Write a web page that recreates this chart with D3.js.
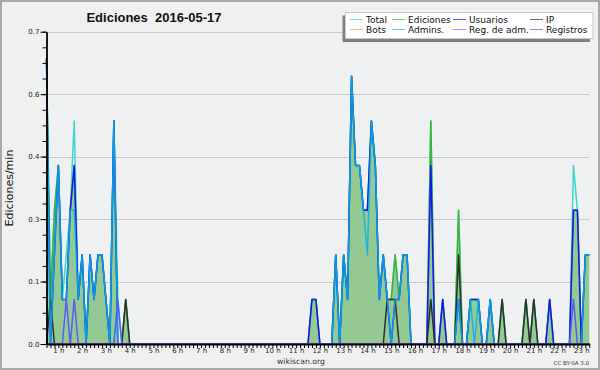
<!DOCTYPE html>
<html>
<head>
<meta charset="utf-8">
<script src="https://cdnjs.cloudflare.com/ajax/libs/d3/7.8.5/d3.min.js"></script>
<style>
body { margin: 0; background: #f0f0f0; }
svg { display: block; }
</style>
</head>
<body>
<script>
// one value every 10 min, first point is 0:30 (6 values per row = 1 hour)
var hourLabels = ["1 h", "2 h", "3 h", "4 h", "5 h", "6 h", "7 h", "8 h", "9 h", "10 h", "11 h", "12 h",
    "13 h", "14 h", "15 h", "16 h", "17 h", "18 h", "19 h", "20 h", "21 h", "22 h", "23 h"];

var yTickValues = [0, 0.14, 0.28, 0.42, 0.56, 0.7];

var seriesNames = ["Total", "Ediciones", "Usuarios", "IP", "Bots", "Admins.", "Reg. de adm.", "Registros"];

var total = [
    0.64, 0.1, 0.3, 0.4, 0.1, 0.2,
    0.3, 0.5, 0.1, 0.2, 0, 0.2,
    0.1, 0.2, 0.2, 0.1, 0, 0.5,
    0.1, 0, 0.1, 0, 0, 0,
    0, 0, 0, 0, 0, 0,
    0, 0, 0, 0, 0, 0,
    0, 0, 0, 0, 0, 0,
    0, 0, 0, 0, 0, 0,
    0, 0, 0, 0, 0, 0,
    0, 0, 0, 0, 0, 0,
    0, 0, 0, 0, 0, 0,
    0, 0.1, 0.1, 0, 0, 0,
    0, 0.2, 0, 0.2, 0.1, 0.6,
    0.4, 0.4, 0.3, 0.3, 0.5, 0.4,
    0.1, 0.2, 0.1, 0.1, 0.2, 0.1,
    0.2, 0.2, 0, 0, 0, 0,
    0, 0.5, 0, 0, 0.1, 0,
    0, 0, 0.3, 0, 0, 0.1,
    0.1, 0.1, 0, 0, 0.1, 0,
    0, 0.1, 0, 0, 0, 0,
    0, 0.1, 0, 0.1, 0, 0,
    0, 0.1, 0, 0, 0, 0,
    0, 0.4, 0.3, 0, 0.2, 0.2
];

var ediciones = [
    0.64, 0.1, 0.3, 0.4, 0.1, 0.1,
    0.3, 0.4, 0.1, 0.2, 0, 0.2,
    0.1, 0.2, 0.2, 0.1, 0, 0.5,
    0, 0, 0.1, 0, 0, 0,
    0, 0, 0, 0, 0, 0,
    0, 0, 0, 0, 0, 0,
    0, 0, 0, 0, 0, 0,
    0, 0, 0, 0, 0, 0,
    0, 0, 0, 0, 0, 0,
    0, 0, 0, 0, 0, 0,
    0, 0, 0, 0, 0, 0,
    0, 0.1, 0.1, 0, 0, 0,
    0, 0.2, 0, 0.2, 0.1, 0.6,
    0.4, 0.4, 0.3, 0.3, 0.5, 0.4,
    0.1, 0.2, 0.1, 0.1, 0.2, 0.1,
    0.2, 0.2, 0, 0, 0, 0,
    0, 0.5, 0, 0, 0.1, 0,
    0, 0, 0.3, 0, 0, 0.1,
    0.1, 0.1, 0, 0, 0.1, 0,
    0, 0.1, 0, 0, 0, 0,
    0, 0.1, 0, 0.1, 0, 0,
    0, 0.1, 0, 0, 0, 0,
    0, 0.3, 0.3, 0, 0.2, 0.2
];

var usuarios = [
    0.64, 0, 0.2, 0.4, 0.1, 0.1,
    0.3, 0.4, 0.1, 0.2, 0, 0.2,
    0.1, 0.2, 0.2, 0.1, 0, 0.5,
    0, 0, 0, 0, 0, 0,
    0, 0, 0, 0, 0, 0,
    0, 0, 0, 0, 0, 0,
    0, 0, 0, 0, 0, 0,
    0, 0, 0, 0, 0, 0,
    0, 0, 0, 0, 0, 0,
    0, 0, 0, 0, 0, 0,
    0, 0, 0, 0, 0, 0,
    0, 0.1, 0.1, 0, 0, 0,
    0, 0.2, 0, 0.2, 0.1, 0.6,
    0.4, 0.4, 0.3, 0.3, 0.5, 0.4,
    0.1, 0.2, 0.1, 0, 0.1, 0.1,
    0.2, 0.2, 0, 0, 0, 0,
    0, 0.4, 0, 0, 0.1, 0,
    0, 0, 0.1, 0, 0, 0.1,
    0.1, 0.1, 0, 0, 0.1, 0,
    0, 0, 0, 0, 0, 0,
    0, 0, 0, 0, 0, 0,
    0, 0.1, 0, 0, 0, 0,
    0, 0.3, 0.3, 0, 0.2, 0.2
];

var ip = [
    0, 0.1, 0, 0, 0, 0,
    0, 0, 0, 0, 0, 0,
    0, 0, 0, 0, 0, 0,
    0, 0, 0.1, 0, 0, 0,
    0, 0, 0, 0, 0, 0,
    0, 0, 0, 0, 0, 0,
    0, 0, 0, 0, 0, 0,
    0, 0, 0, 0, 0, 0,
    0, 0, 0, 0, 0, 0,
    0, 0, 0, 0, 0, 0,
    0, 0, 0, 0, 0, 0,
    0, 0, 0, 0, 0, 0,
    0, 0, 0, 0, 0, 0,
    0, 0, 0, 0, 0, 0,
    0, 0, 0.1, 0.1, 0.1, 0,
    0, 0, 0, 0, 0, 0,
    0, 0.1, 0, 0, 0, 0,
    0, 0, 0.2, 0, 0, 0,
    0, 0, 0, 0, 0, 0,
    0, 0.1, 0, 0, 0, 0,
    0, 0.1, 0, 0.1, 0, 0,
    0, 0, 0, 0, 0, 0,
    0, 0, 0, 0, 0, 0
];

var admins = [
    0.64, 0, 0.2, 0.4, 0.1, 0.1,
    0.3, 0.3, 0.1, 0.2, 0, 0.2,
    0.1, 0.2, 0.2, 0.1, 0, 0.5,
    0, 0, 0, 0, 0, 0,
    0, 0, 0, 0, 0, 0,
    0, 0, 0, 0, 0, 0,
    0, 0, 0, 0, 0, 0,
    0, 0, 0, 0, 0, 0,
    0, 0, 0, 0, 0, 0,
    0, 0, 0, 0, 0, 0,
    0, 0, 0, 0, 0, 0,
    0, 0, 0, 0, 0, 0,
    0, 0.2, 0, 0.2, 0.1, 0.6,
    0.4, 0.4, 0.3, 0.2, 0.5, 0.4,
    0.1, 0.2, 0.1, 0, 0.1, 0.1,
    0.2, 0.2, 0, 0, 0, 0,
    0, 0, 0, 0, 0, 0,
    0, 0, 0.1, 0, 0, 0.1,
    0, 0.1, 0, 0, 0.1, 0,
    0, 0, 0, 0, 0, 0,
    0, 0, 0, 0, 0, 0,
    0, 0, 0, 0, 0, 0,
    0, 0, 0, 0, 0.2, 0.2
];

var registros = [
    0, 0, 0, 0, 0, 0.1,
    0, 0.1, 0, 0, 0, 0,
    0, 0, 0, 0, 0, 0,
    0.1, 0, 0, 0, 0, 0,
    0, 0, 0, 0, 0, 0,
    0, 0, 0, 0, 0, 0,
    0, 0, 0, 0, 0, 0,
    0, 0, 0, 0, 0, 0,
    0, 0, 0, 0, 0, 0,
    0, 0, 0, 0, 0, 0,
    0, 0, 0, 0, 0, 0,
    0, 0, 0, 0, 0, 0,
    0, 0, 0, 0, 0, 0,
    0, 0, 0, 0, 0, 0,
    0, 0, 0, 0, 0, 0,
    0, 0, 0, 0, 0, 0,
    0, 0, 0, 0, 0, 0,
    0, 0, 0, 0, 0, 0,
    0, 0, 0, 0, 0, 0,
    0, 0, 0, 0, 0, 0,
    0, 0, 0, 0, 0, 0,
    0, 0, 0, 0, 0, 0,
    0, 0.1, 0, 0, 0, 0
];

// no bot edits and no admin log actions that day
var bots = total.map(function () { return 0; });
var regAdm = total.map(function () { return 0; });

var lineColors = ["#3fd6c8", "#3cb43c", "#1414f5", "#2e2e2e", "#f5a033", "#08b0e8", "#d23ce6", "#5a5af5"];

var width = 600, height = 370;
var plot = { left: 46.5, right: 589.3, top: 31.7, bottom: 344 };

var svg = d3.select("body").append("svg")
    .attr("width", width)
    .attr("height", height);

svg.append("rect")
    .attr("x", 1).attr("y", 1)
    .attr("width", width - 2).attr("height", height - 2)
    .attr("fill", "#f0f0f0")
    .attr("stroke", "#a8a8a8")
    .attr("stroke-width", 2);

svg.append("rect")
    .attr("x", plot.left).attr("y", plot.top)
    .attr("width", plot.right - plot.left).attr("height", plot.bottom - plot.top)
    .attr("fill", "#eef0f2");

var x = d3.scaleLinear()
    .domain([0, total.length - 1])
    .range([plot.left, plot.right]);

var y = d3.scaleLinear()
    .domain([0, 0.7])
    .range([plot.bottom, plot.top]);

// grid
svg.append("g").selectAll("line")
    .data(yTickValues.slice(1))
    .enter().append("line")
    .attr("x1", plot.left).attr("x2", plot.right)
    .attr("y1", function (d) { return Math.round(y(d)) + 0.5; })
    .attr("y2", function (d) { return Math.round(y(d)) + 0.5; })
    .attr("stroke", "#c8c8c8");

// ediciones area
var area = d3.area()
    .x(function (d, i) { return x(i); })
    .y0(y(0))
    .y1(function (d) { return y(d); });

svg.append("path")
    .datum(ediciones)
    .attr("d", area)
    .attr("fill", "#94c994");

var line = d3.line()
    .x(function (d, i) { return x(i); })
    .y(function (d) { return y(d); });

var allSeries = [total, ediciones, usuarios, ip, bots, admins, regAdm, registros];

svg.append("g").selectAll("path")
    .data(allSeries)
    .enter().append("path")
    .attr("d", line)
    .attr("fill", "none")
    .attr("stroke", function (d, i) { return lineColors[i]; })
    .attr("stroke-opacity", function (d, i) { return i == 5 ? 0.85 : 1; })
    .attr("stroke-width", 1.5)
    .attr("stroke-linejoin", "round");

// x axis
var xAxis = d3.axisBottom(x)
    .tickValues(d3.range(total.length))
    .tickSize(4)
    .tickSizeOuter(0)
    .tickPadding(0)
    .tickFormat(function (i) { return i % 6 == 3 ? hourLabels[(i - 3) / 6] : ""; });

var gx = svg.append("g")
    .attr("transform", "translate(0," + plot.bottom + ")")
    .call(xAxis);

gx.select(".domain").attr("stroke", "#000").attr("stroke-width", 1.8);
gx.selectAll(".tick line").attr("stroke", "#000");
gx.selectAll("text")
    .attr("font-family", "DejaVu Sans")
    .attr("font-size", 7)
    .attr("fill", "#222");

// y axis, minor ticks then major ticks
var yMinor = svg.append("g")
    .attr("transform", "translate(" + plot.left + ",0)")
    .call(d3.axisLeft(y).tickValues(d3.range(0, 0.7001, 0.035)).tickSize(4).tickSizeOuter(0).tickFormat(""));
yMinor.select(".domain").remove();
yMinor.selectAll(".tick line").attr("stroke", "#000");

var gy = svg.append("g")
    .attr("transform", "translate(" + plot.left + ",0)")
    .call(d3.axisLeft(y).tickValues(yTickValues).tickSize(6).tickSizeOuter(0).tickPadding(1)
        .tickFormat(d3.format(".1f")));

gy.select(".domain").attr("stroke", "#000").attr("stroke-width", 1.8);
gy.selectAll(".tick line").attr("stroke", "#000");
gy.selectAll("text")
    .attr("font-family", "DejaVu Sans")
    .attr("font-size", 7)
    .attr("fill", "#222");

// titles
svg.append("text")
    .attr("x", 154).attr("y", 21.5)
    .attr("text-anchor", "middle")
    .attr("font-family", "Liberation Sans")
    .attr("font-weight", "bold")
    .attr("font-size", 13)
    .attr("fill", "#111")
    .style("white-space", "pre")
    .text("Ediciones  2016-05-17");

svg.append("text")
    .attr("transform", "translate(13,188) rotate(-90)")
    .attr("text-anchor", "middle")
    .attr("font-family", "DejaVu Sans")
    .attr("font-size", 11)
    .attr("fill", "#111")
    .text("Ediciones/min");

svg.append("text")
    .attr("x", 301).attr("y", 364)
    .attr("text-anchor", "middle")
    .attr("font-family", "DejaVu Sans")
    .attr("font-size", 7.7)
    .attr("fill", "#333")
    .text("wikiscan.org");

svg.append("text")
    .attr("x", 589).attr("y", 365)
    .attr("text-anchor", "end")
    .attr("font-family", "DejaVu Sans")
    .attr("font-size", 5.5)
    .attr("fill", "#333")
    .text("CC BY-SA 3.0");

// legend
svg.append("rect")
    .attr("x", 342.5).attr("y", 15.5)
    .attr("width", 247.5).attr("height", 26.5)
    .attr("fill", "#808080");

svg.append("rect")
    .attr("x", 345.5).attr("y", 12.5)
    .attr("width", 247.5).attr("height", 26)
    .attr("fill", "#ffffff")
    .attr("stroke", "#c8c8c8");

var legendCols = [350, 392, 453, 530];

var legend = svg.append("g").selectAll("g")
    .data(seriesNames)
    .enter().append("g")
    .attr("transform", function (d, i) {
        return "translate(" + legendCols[i % 4] + "," + (19.5 + Math.floor(i / 4) * 10) + ")";
    });

legend.append("line")
    .attr("x1", 0).attr("x2", 13)
    .attr("stroke", function (d, i) { return lineColors[i]; })
    .attr("stroke-opacity", 0.7)
    .attr("stroke-width", 1);

legend.append("text")
    .attr("x", 16).attr("y", 3.3)
    .attr("font-family", "DejaVu Sans")
    .attr("font-size", 9)
    .attr("fill", "#111")
    .text(function (d) { return d; });
</script>
</body>
</html>
